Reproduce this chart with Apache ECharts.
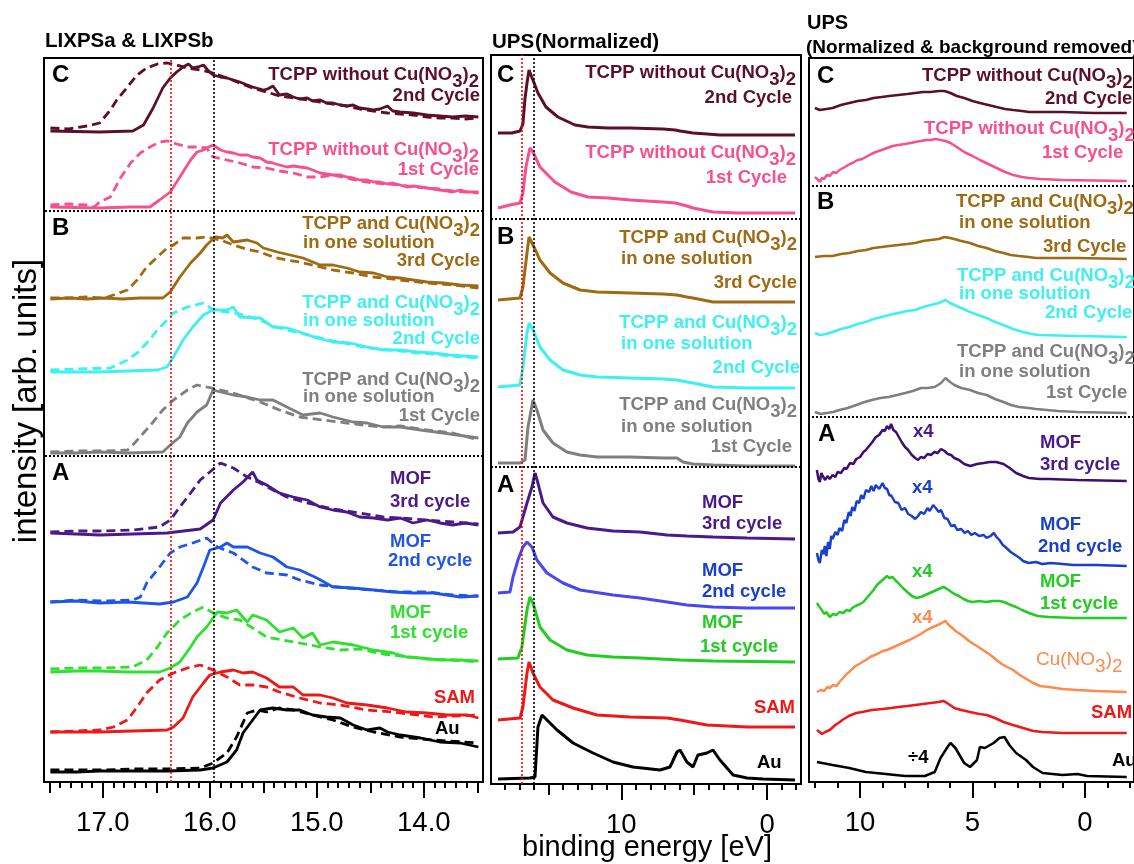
<!DOCTYPE html>
<html><head><meta charset="utf-8">
<script src="https://cdn.jsdelivr.net/npm/echarts@6/dist/echarts.min.js"></script>
<style>html,body{margin:0;padding:0;background:#fff}#c{width:1134px;height:864px}</style>
</head><body><div id="c"></div><script>
// ---------- tick positions / labels ----------
const lxMajor = [17, 16, 15, 14];
const lxMedium = [17.5, 16.5, 15.5, 14.5, 13.5];
const lxMinor = [17.4,17.3,17.2,17.1,16.9,16.8,16.7,16.6,16.4,16.3,16.2,16.1,15.9,15.8,15.7,15.6,15.4,15.3,15.2,15.1,14.9,14.8,14.7,14.6,14.4,14.3,14.2,14.1,13.9,13.8,13.7,13.6];
const upsMajor = [10, 0];
const upsMedium = [15, 5];
const upsMinor = [18,17,16,14,13,12,11,9,8,7,6,4,3,2,1,-1,-2];
const bgMajor = [10, 5, 0];
const bgMinor = [12,11,9,8,7,6,4,3,2,1,-1,-2];
// reference energies (dotted lines) and panel separators
const lxRefLines = [16.373, 15.96];
const upsRefLines = [16.8, 16.0];
const lxSep = [571, 326];
const upsSep = [565, 317];
const bgSep = [596, 365];

// ---------- LIXPS panel (binding energy eV, intensity offset units) ----------
const lxC2s = [[17.49,651],[17.03,650],[16.72,651],[16.62,657],[16.53,674],[16.44,694],[16.37,704],[16.31,710],[16.25,715],[16.20,718],[16.16,714],[16.11,715],[16.06,717],[16.02,712],[15.97,707],[15.90,705],[15.84,704],[15.78,702],[15.72,700],[15.65,697],[15.60,695],[15.50,692],[15.46,693],[15.41,696],[15.35,687],[15.28,688],[15.22,685],[15.16,683],[15.09,684],[15.04,681],[14.97,682],[14.91,679],[14.85,679],[14.78,677],[14.72,676],[14.66,677],[14.60,674],[14.53,673],[14.47,672],[14.41,673],[14.34,676],[14.29,671],[14.22,670],[14.10,669],[13.97,667],[13.85,666],[13.73,665],[13.61,666],[13.49,665]];
const lxC2d = [[17.49,654],[17.32,653],[17.15,656],[17.03,659],[16.93,672],[16.87,682],[16.77,695],[16.68,707],[16.59,714],[16.49,718],[16.40,719],[16.31,717],[16.21,714],[16.09,712],[15.97,709],[15.84,704],[15.72,699],[15.60,694],[15.47,690],[15.35,686],[15.22,684],[15.09,682],[14.97,680],[14.85,678],[14.72,676],[14.60,673],[14.47,671],[14.34,669],[14.22,668],[14.10,667],[13.97,665],[13.85,664],[13.73,664],[13.61,663],[13.49,664]];
const lxC1s = [[17.49,575],[17.03,574],[16.75,575],[16.56,575],[16.47,582],[16.37,590],[16.28,605],[16.18,622],[16.12,630],[16.06,632],[16.03,634],[15.97,637],[15.90,632],[15.84,630],[15.78,629],[15.72,627],[15.65,627],[15.60,625],[15.53,624],[15.47,620],[15.41,619],[15.35,617],[15.28,615],[15.22,616],[15.16,615],[15.09,614],[15.04,612],[14.97,609],[14.91,608],[14.85,607],[14.78,607],[14.72,605],[14.66,604],[14.60,602],[14.53,602],[14.47,600],[14.41,600],[14.34,598],[14.29,599],[14.22,597],[14.16,595],[14.10,596],[14.03,595],[13.97,594],[13.91,593],[13.85,592],[13.78,591],[13.73,590],[13.66,592],[13.59,590],[13.49,590]];
const lxC1d = [[17.49,577],[17.32,578],[17.15,577],[17.08,575],[17.03,580],[16.93,585],[16.83,605],[16.74,619],[16.65,629],[16.56,635],[16.47,640],[16.40,641],[16.37,640],[16.31,638],[16.21,635],[16.12,635],[16.03,634],[15.97,625],[15.84,622],[15.72,619],[15.60,615],[15.47,614],[15.35,611],[15.22,609],[15.09,605],[14.97,605],[14.85,607],[14.72,604],[14.60,601],[14.47,599],[14.34,598],[14.22,597],[14.10,595],[13.97,594],[13.85,593],[13.73,591],[13.61,590],[13.49,589]];
const lxB3s = [[17.49,483],[17.32,484],[17.15,483],[16.98,484],[16.82,483],[16.65,484],[16.44,484],[16.37,490],[16.28,505],[16.18,519],[16.09,529],[16.03,537],[15.95,545],[15.88,544],[15.84,547],[15.78,540],[15.65,542],[15.56,539],[15.50,534],[15.37,530],[15.25,527],[15.13,524],[14.97,517],[14.85,517],[14.72,514],[14.60,510],[14.47,509],[14.34,505],[14.22,504],[14.10,502],[13.97,500],[13.82,499],[13.66,497],[13.49,496]];
const lxB3d = [[17.49,484],[17.32,484],[17.15,485],[16.98,484],[16.77,492],[16.68,502],[16.59,515],[16.49,525],[16.40,534],[16.34,537],[16.25,544],[16.12,544],[16.03,545],[15.90,542],[15.78,537],[15.66,533],[15.53,530],[15.41,525],[15.28,522],[15.16,520],[14.97,515],[14.85,512],[14.66,509],[14.47,505],[14.22,502],[13.97,499],[13.73,497],[13.49,494]];
const lxB2s = [[17.49,410],[17.25,410],[17.03,410],[16.77,411],[16.49,412],[16.40,415],[16.34,425],[16.25,442],[16.16,455],[16.06,467],[15.97,472],[15.84,472],[15.78,475],[15.72,465],[15.53,464],[15.41,455],[15.28,454],[15.16,450],[15.00,444],[14.85,440],[14.69,439],[14.53,435],[14.38,432],[14.22,432],[14.06,430],[13.91,429],[13.76,427],[13.49,425]];
const lxB2d = [[17.49,412],[17.25,413],[16.93,414],[16.77,422],[16.68,429],[16.59,439],[16.49,452],[16.40,462],[16.34,469],[16.21,475],[16.06,479],[15.97,472],[15.84,470],[15.72,468],[15.53,462],[15.41,456],[15.28,452],[15.16,449],[15.00,445],[14.85,441],[14.69,438],[14.53,434],[14.38,433],[14.22,431],[14.06,429],[13.91,428],[13.76,426],[13.49,424]];
const lxB1s = [[17.49,329],[17.25,329],[17.03,330],[16.77,329],[16.44,330],[16.37,337],[16.28,345],[16.21,359],[16.12,370],[16.03,377],[15.97,392],[15.90,390],[15.78,387],[15.65,385],[15.53,382],[15.41,382],[15.28,375],[15.13,367],[14.97,369],[14.85,365],[14.66,360],[14.53,359],[14.38,355],[14.22,355],[14.03,352],[13.82,349],[13.49,344]];
const lxB1d = [[17.49,330],[17.25,331],[16.98,331],[16.77,332],[16.72,337],[16.62,349],[16.53,360],[16.44,372],[16.34,382],[16.21,392],[16.12,397],[16.03,395],[15.90,392],[15.75,388],[15.53,380],[15.35,372],[15.16,365],[14.94,362],[14.72,359],[14.41,355],[14.22,356],[13.97,352],[13.73,349],[13.49,342]];
const lxA3s = [[17.49,249],[17.25,248],[17.03,247],[16.72,248],[16.40,249],[16.09,253],[15.97,262],[15.90,279],[15.78,292],[15.69,300],[15.60,310],[15.56,302],[15.47,297],[15.35,289],[15.22,285],[15.09,282],[14.97,275],[14.85,272],[14.72,270],[14.60,265],[14.47,264],[14.34,262],[14.22,264],[14.10,259],[13.97,262],[13.85,259],[13.73,257],[13.61,259],[13.49,257]];
const lxA3d = [[17.49,250],[17.25,251],[17.03,251],[16.72,252],[16.47,255],[16.37,262],[16.28,275],[16.18,289],[16.09,302],[16.00,310],[15.90,319],[15.78,314],[15.65,305],[15.53,299],[15.41,292],[15.28,285],[15.09,279],[14.85,273],[14.60,269],[14.38,265],[14.22,264],[13.97,262],[13.73,260],[13.49,258]];
const lxA2s = [[17.49,180],[17.25,181],[17.03,179],[16.77,180],[16.47,178],[16.34,180],[16.21,185],[16.12,199],[16.06,215],[16.00,232],[15.90,235],[15.84,239],[15.78,235],[15.65,235],[15.53,229],[15.41,225],[15.28,215],[15.16,212],[15.00,204],[14.85,195],[14.66,194],[14.47,192],[14.29,190],[14.10,189],[13.91,189],[13.66,185],[13.49,186]];
const lxA2d = [[17.49,180],[17.25,182],[16.98,181],[16.72,182],[16.65,185],[16.59,199],[16.47,215],[16.37,229],[16.28,235],[16.16,239],[16.03,244],[15.93,235],[15.78,229],[15.60,215],[15.47,209],[15.28,207],[15.16,202],[14.97,197],[14.72,194],[14.47,192],[14.22,190],[13.97,190],[13.73,187],[13.49,186]];
const lxA1s = [[17.49,110],[17.25,111],[17.03,111],[16.77,110],[16.47,110],[16.37,114],[16.28,120],[16.18,135],[16.12,145],[16.03,155],[15.93,170],[15.84,169],[15.75,172],[15.65,160],[15.60,167],[15.47,162],[15.35,150],[15.22,154],[15.13,144],[15.04,149],[14.97,137],[14.85,140],[14.66,137],[14.47,132],[14.29,129],[14.16,125],[14.03,124],[13.85,122],[13.66,122],[13.49,121]];
const lxA1d = [[17.49,113],[17.25,114],[16.98,114],[16.72,115],[16.59,122],[16.49,135],[16.40,149],[16.28,162],[16.16,170],[16.06,175],[15.97,169],[15.84,164],[15.72,162],[15.60,154],[15.47,145],[15.32,142],[15.16,139],[14.97,135],[14.78,132],[14.60,133],[14.38,128],[14.22,126],[13.97,123],[13.73,122],[13.49,120]];
const lxSAMs = [[17.49,50],[17.25,50],[17.03,50],[16.72,51],[16.40,52],[16.34,55],[16.25,64],[16.16,85],[16.06,99],[16.00,107],[15.90,110],[15.78,112],[15.69,109],[15.60,110],[15.47,104],[15.35,95],[15.22,95],[15.13,87],[14.97,87],[14.85,84],[14.72,79],[14.53,77],[14.34,74],[14.16,70],[13.97,69],[13.78,67],[13.59,67],[13.49,64]];
const lxSAMd = [[17.49,50],[17.25,51],[17.03,52],[16.90,55],[16.77,62],[16.68,75],[16.59,89],[16.47,102],[16.34,109],[16.21,114],[16.09,117],[15.97,112],[15.84,105],[15.72,97],[15.60,97],[15.47,95],[15.35,90],[15.16,84],[14.97,79],[14.78,77],[14.53,72],[14.29,70],[13.91,65],[13.49,67]];
const lxAus = [[17.49,10],[17.25,10],[17.03,11],[16.72,11],[16.40,11],[16.09,12],[15.97,14],[15.84,20],[15.75,32],[15.69,49],[15.60,62],[15.53,72],[15.41,74],[15.28,72],[15.16,72],[15.04,67],[14.91,65],[14.78,64],[14.66,57],[14.53,52],[14.41,54],[14.34,50],[14.22,47],[14.03,44],[13.85,40],[13.66,39],[13.49,35]];
const lxAud = [[17.49,12],[17.25,12],[16.98,12],[16.72,13],[16.40,13],[16.09,14],[15.97,19],[15.84,29],[15.75,45],[15.65,69],[15.56,72],[15.47,70],[15.35,74],[15.22,72],[15.04,67],[14.85,62],[14.66,55],[14.47,50],[14.22,45],[13.91,42],[13.49,39]];

// ---------- UPS normalized panel ----------
const upsC2 = [[18.46,651],[17.5,651],[16.95,653],[16.75,660],[16.61,685],[16.47,701],[16.33,714],[16.2,709],[16.06,704],[15.72,691],[15.17,677],[14.35,667],[13.18,659],[12.29,657],[10.91,656],[9.4,656],[7.14,655],[6.3,654],[5.97,653],[5.08,651],[4.12,650],[3.23,649],[1.37,649],[-1.92,649]];
const upsC1 = [[18.46,576],[17.64,579],[16.95,581],[16.75,591],[16.54,617],[16.27,636],[16.06,632],[15.58,617],[14.56,602],[13.45,592],[12.29,587],[10.91,586],[9.4,584],[7.14,582],[6.3,581],[5.5,578],[5.08,576],[3.71,572],[2.0,571],[-1.92,571]];
const upsB3 = [[18.46,484],[16.95,486],[16.75,497],[16.47,531],[16.33,547],[16.06,539],[15.58,524],[14.89,511],[14.0,501],[12.83,494],[11.67,492],[9.4,491],[7.14,490],[6.18,489],[5.5,487],[5.08,486],[3.71,482],[1.37,482],[-1.92,482]];
const upsB2 = [[18.46,397],[16.95,399],[16.75,417],[16.47,451],[16.33,461],[16.06,454],[15.58,437],[14.89,424],[14.0,414],[12.83,409],[11.67,407],[9.4,406],[7.14,405],[6.18,404],[5.5,402],[5.08,401],[3.71,397],[1.37,396],[-1.92,396]];
const upsB1 = [[18.46,321],[16.95,321],[16.61,324],[16.40,357],[16.06,384],[15.79,374],[15.37,354],[14.69,341],[13.73,332],[12.83,329],[11.67,327],[9.4,327],[7.14,326],[6.18,326],[5.77,322],[5.08,320],[3.71,319],[1.37,318],[-1.92,318]];
const upsA3 = [[18.46,251],[17.43,252],[16.95,257],[16.47,281],[16.13,297],[15.92,311],[15.72,301],[15.37,281],[14.69,267],[13.73,261],[12.35,256],[10.57,253],[8.72,252],[6.86,249],[5.5,248],[3.71,247],[1.37,246],[-1.92,245]];
const upsA2 = [[18.46,191],[17.64,192],[17.43,207],[17.09,224],[16.75,237],[16.47,242],[16.13,237],[15.79,224],[15.10,211],[14.0,201],[12.83,194],[10.57,189],[8.72,186],[6.86,182],[5.5,179],[3.71,177],[1.37,176],[-1.92,176]];
const upsA1 = [[18.46,125],[17.09,126],[16.82,137],[16.47,174],[16.27,187],[16.06,181],[15.58,157],[14.89,144],[13.73,134],[12.35,129],[10.57,127],[8.72,126],[5.97,124],[3.71,123],[-1.92,122]];
const upsSAM = [[18.46,64],[16.95,66],[16.75,77],[16.47,111],[16.33,122],[16.06,111],[15.58,97],[14.69,84],[13.31,76],[11.67,69],[9.4,67],[6.86,66],[5.97,64],[4.12,59],[1.37,57],[-1.92,57]];
const upsAu = [[18.46,5],[16.27,6],[15.92,7],[15.72,57],[15.44,69],[15.10,64],[14.41,54],[13.31,41],[11.94,31],[10.57,22],[9.20,17],[7.34,14],[6.66,17],[6.18,32],[5.97,34],[5.50,22],[5.08,17],[4.74,29],[4.12,31],[3.71,34],[3.23,24],[2.75,16],[2.33,9],[1.37,6],[0.27,5],[-1.92,4]];

// ---------- UPS normalized & background removed panel ----------
const bgC2 = [[12.01,674],[11.79,672],[11.5,673],[11.22,674],[10.85,677],[10.48,679],[10.1,681],[9.74,682],[9.4,684],[9.04,685],[8.7,686],[8.30,687],[7.9,688],[7.55,689],[7.2,690],[6.86,690],[6.5,691],[6.24,691],[5.98,689],[5.7,686],[5.37,684],[5.0,681],[4.67,679],[4.3,677],[3.93,675],[3.55,673],[3.19,672],[2.8,671],[2.49,670],[1.0,670],[-0.41,669],[-1.86,669]];
const bgC1 = [[12.01,605],[11.9,603],[11.79,600],[11.7,604],[11.6,603],[11.48,607],[11.35,606],[11.2,610],[11.05,609],[10.92,612],[10.75,614],[10.6,616],[10.45,618],[10.35,619],[10.1,622],[9.9,623],[9.74,625],[9.5,628],[9.3,630],[9.04,632],[8.8,634],[8.55,636],[8.3,637],[8.0,638],[7.75,639],[7.55,640],[7.3,641],[7.07,642],[6.86,642],[6.65,643],[6.42,642],[6.2,641],[5.98,639],[5.7,635],[5.37,630],[5.0,626],[4.67,622],[4.3,618],[3.93,614],[3.55,610],[3.19,607],[2.8,605],[2.49,604],[2.0,603],[1.0,602],[-1.86,601]];
const bgB3 = [[12.01,525],[11.6,526],[11.22,526],[10.85,528],[10.48,529],[10.1,531],[9.74,532],[9.4,534],[9.04,535],[8.7,536],[8.30,537],[7.9,538],[7.55,539],[7.2,541],[6.86,542],[6.5,543],[6.24,545],[6.0,544],[5.81,543],[5.5,541],[5.11,539],[4.75,536],[4.37,534],[4.0,531],[3.62,529],[3.3,527],[2.93,526],[2.5,525],[2.18,524],[0.33,524],[-1.86,523]];
const bgB2 = [[12.01,449],[11.79,447],[11.5,448],[11.22,450],[10.85,453],[10.48,455],[10.1,458],[9.74,460],[9.4,463],[9.04,465],[8.7,467],[8.30,469],[7.9,471],[7.55,472],[7.2,475],[6.86,477],[6.5,479],[6.20,482],[6.0,479],[5.81,477],[5.5,474],[5.11,470],[4.75,467],[4.37,464],[4.0,460],[3.62,457],[3.2,453],[2.75,450],[2.4,448],[2.05,447],[0.33,446],[-1.86,445]];
const bgB1 = [[12.01,370],[11.75,368],[11.48,369],[11.2,370],[10.92,372],[10.55,374],[10.17,377],[9.8,380],[9.48,382],[9.1,384],[8.73,385],[8.35,387],[7.99,389],[7.65,391],[7.29,394],[7.0,394],[6.68,395],[6.4,399],[6.20,404],[6.0,400],[5.81,397],[5.5,394],[5.11,392],[4.75,389],[4.37,387],[4.0,383],[3.62,380],[3.3,377],[2.93,375],[2.5,374],[2.18,373],[1.2,371],[0.33,370],[-1.86,369]];
const bgA3 = [[11.92,312],[11.85,303],[11.79,300],[11.72,309],[11.66,306],[11.55,302],[11.45,306],[11.35,303],[11.22,307],[11.1,305],[11.0,310],[10.85,309],[10.7,314],[10.6,313],[10.45,319],[10.3,318],[10.17,323],[10.0,325],[9.85,330],[9.74,332],[9.6,336],[9.45,340],[9.3,345],[9.15,347],[9.0,352],[8.9,351],[8.8,356],[8.7,353],[8.62,358],[8.52,352],[8.4,350],[8.3,346],[8.15,340],[8.0,335],[7.86,332],[7.7,327],[7.55,324],[7.42,322],[7.3,325],[7.15,324],[7.0,328],[6.85,327],[6.7,330],[6.55,329],[6.4,333],[6.24,331],[6.1,328],[5.95,327],[5.81,324],[5.6,322],[5.37,318],[5.1,316],[4.8,318],[4.5,319],[4.24,320],[3.95,320],[3.62,318],[3.35,314],[3.06,309],[2.75,306],[2.49,304],[2.0,303],[1.62,303],[0.33,302],[-1.86,301]];
const bgA2 = [[11.92,229],[11.85,222],[11.79,219],[11.7,232],[11.62,228],[11.57,236],[11.5,226],[11.42,240],[11.35,233],[11.28,246],[11.22,243],[11.1,250],[11.0,247],[10.92,254],[10.8,251],[10.7,262],[10.61,259],[10.5,270],[10.42,266],[10.35,275],[10.25,271],[10.15,281],[10.04,279],[9.95,287],[9.85,283],[9.74,292],[9.6,290],[9.5,296],[9.4,291],[9.3,297],[9.15,293],[9.0,299],[8.9,294],[8.8,293],[8.7,287],[8.6,286],[8.45,280],[8.3,279],[8.15,272],[8.0,274],[7.86,268],[7.7,266],[7.55,263],[7.42,266],[7.3,270],[7.15,268],[7.0,274],[6.9,271],[6.75,277],[6.6,273],[6.5,270],[6.4,272],[6.25,264],[6.11,263],[5.95,256],[5.8,257],[5.68,252],[5.5,253],[5.35,249],[5.2,251],[5.05,247],[4.9,249],[4.7,246],[4.5,247],[4.37,244],[4.2,246],[4.05,249],[3.93,245],[3.8,242],[3.65,237],[3.49,234],[3.3,230],[3.1,227],[2.9,224],[2.75,221],[2.5,219],[2.18,220],[1.9,218],[1.5,219],[1.0,218],[0.5,217],[-0.5,217],[-1.86,216]];
const bgA1 = [[11.92,179],[11.8,175],[11.7,172],[11.6,168],[11.5,170],[11.35,165],[11.2,168],[11.05,167],[10.92,170],[10.75,169],[10.6,172],[10.45,171],[10.35,174],[10.2,176],[10.0,178],[9.85,180],[9.74,183],[9.55,188],[9.4,192],[9.25,197],[9.1,200],[8.95,203],[8.8,206],[8.7,204],[8.55,205],[8.4,201],[8.3,199],[8.1,194],[7.9,190],[7.7,186],[7.5,184],[7.3,185],[7.1,187],[6.9,189],[6.7,191],[6.5,193],[6.3,195],[6.2,194],[6.0,191],[5.8,188],[5.6,186],[5.4,183],[5.2,181],[5.0,180],[4.7,181],[4.4,180],[4.1,181],[3.8,181],[3.6,180],[3.3,177],[3.06,175],[2.8,172],[2.49,169],[2.1,166],[1.62,165],[0.5,164],[-1.86,164]];
const bgCu = [[11.92,90],[11.75,92],[11.6,91],[11.45,95],[11.35,94],[11.2,97],[11.05,96],[10.92,100],[10.75,104],[10.6,108],[10.48,110],[10.35,113],[10.2,116],[10.04,118],[9.9,120],[9.74,122],[9.55,125],[9.35,127],[9.15,129],[9.0,131],[8.8,132],[8.6,134],[8.4,136],[8.2,138],[8.0,140],[7.8,142],[7.55,145],[7.3,148],[7.1,151],[6.86,154],[6.65,156],[6.45,158],[6.3,160],[6.2,161],[6.05,157],[5.9,154],[5.75,151],[5.55,148],[5.37,145],[5.15,141],[4.95,138],[4.67,134],[4.4,130],[4.2,127],[3.93,122],[3.7,118],[3.45,115],[3.19,112],[2.9,107],[2.6,103],[2.3,99],[2.0,96],[1.62,95],[1.0,93],[0.33,92],[-0.5,91],[-1.86,90]];
const bgSAM = [[11.92,52],[11.8,50],[11.7,48],[11.55,50],[11.35,52],[11.1,57],[10.9,60],[10.79,62],[10.5,66],[10.17,69],[9.9,70],[9.48,72],[9.0,73],[8.6,74],[8.3,75],[7.9,76],[7.55,77],[7.2,78],[6.86,79],[6.5,80],[6.3,81],[6.2,80],[6.0,77],[5.81,74],[5.5,72],[5.11,70],[4.7,68],[4.37,67],[4.0,64],[3.62,60],[3.2,57],[2.75,54],[2.3,51],[1.88,50],[1.0,49],[-1.86,49]];
const bgAu = [[11.92,20],[11.22,17],[10.48,14],[9.74,10],[8.86,8],[7.99,6],[7.12,6],[6.68,10],[6.42,24],[6.11,35],[5.98,39],[5.76,34],[5.37,19],[5.11,15],[4.80,22],[4.67,35],[4.45,34],[4.06,39],[3.80,44],[3.58,45],[3.36,37],[3.06,29],[2.62,22],[2.31,15],[1.88,9],[1.0,7],[0.33,8],[-0.1,6],[-1.86,5]];

// ---------- styling ----------
const FF = '"Liberation Sans", Arial, Helvetica, sans-serif';
const C = {maroon:'#5c0f2c', pink:'#f7508f', brown:'#9e6a12', cyan:'#3ff0f2', gray:'#7f7f7f',
  purple:'#4a1a8a', purpleR:'#3c0f70', blueL:'#1f55ea', blueM:'#4848ee', blueR:'#1a3fcc',
  green:'#30e030', greenM:'#22cc22', red:'#ee1818', orange:'#ff8a4f', black:'#000000'};

function ln(data, color, panel, dashed, width) {
  return {type:'line', data, xAxisIndex: panel*3, yAxisIndex: panel, symbol:'none', showSymbol:false,
    silent:true, animation:false, clip:true,
    lineStyle:{color, width: width || 2.8, type: dashed ? [9,5] : 'solid'}};
}
const series = [
  ln(lxC2d,C.maroon,0,true), ln(lxC2s,C.maroon,0),
  ln(lxC1d,C.pink,0,true), ln(lxC1s,C.pink,0),
  ln(lxB3d,C.brown,0,true), ln(lxB3s,C.brown,0),
  ln(lxB2d,C.cyan,0,true), ln(lxB2s,C.cyan,0),
  ln(lxB1d,C.gray,0,true), ln(lxB1s,C.gray,0),
  ln(lxA3d,C.purple,0,true), ln(lxA3s,C.purple,0),
  ln(lxA2d,C.blueL,0,true), ln(lxA2s,C.blueL,0),
  ln(lxA1d,C.green,0,true), ln(lxA1s,C.green,0),
  ln(lxSAMd,C.red,0,true), ln(lxSAMs,C.red,0),
  ln(lxAud,C.black,0,true), ln(lxAus,C.black,0),
  ln(upsC2,C.maroon,1,false,3), ln(upsC1,C.pink,1,false,3), ln(upsB3,C.brown,1,false,3), ln(upsB2,C.cyan,1,false,3), ln(upsB1,C.gray,1,false,3),
  ln(upsA3,C.purple,1,false,3), ln(upsA2,C.blueM,1,false,3), ln(upsA1,C.greenM,1,false,3), ln(upsSAM,C.red,1,false,3), ln(upsAu,C.black,1,false,3),
  ln(bgC2,C.maroon,2,false,2.5), ln(bgC1,C.pink,2,false,2.5), ln(bgB3,C.brown,2,false,2.5), ln(bgB2,C.cyan,2,false,2.5),
  ln(bgB1,C.gray,2,false,2.5), ln(bgA3,C.purpleR,2,false,2.5), ln(bgA2,C.blueR,2,false,2.5), ln(bgA1,C.greenM,2,false,2.5),
  ln(bgCu,C.orange,2,false,2.5), ln(bgSAM,C.red,2,false,2.5), ln(bgAu,C.black,2,false,2.5)
];
function marks(panel, vlines, hlines) {
  const d = [];
  vlines.forEach((v,i) => d.push({xAxis:v, lineStyle:{color: i===0 ? '#ff0000' : '#000', type:[2,2], width:1.6}}));
  hlines.forEach(v => d.push({yAxis:v, lineStyle:{color:'#000', type:[2,2], width:2}}));
  return {type:'line', data:[], xAxisIndex: panel*3, yAxisIndex: panel, silent:true, animation:false,
    markLine:{silent:true, symbol:'none', animation:false, label:{show:false}, data:d}};
}
series.push(marks(0, lxRefLines, lxSep), marks(1, upsRefLines, upsSep), marks(2, [], bgSep));

function axes(grid, min, max, major, medium, minor, fmt) {
  const base = {type:'value', gridIndex:grid, min, max, inverse:true, position:'bottom',
    axisLine:{show:false}, splitLine:{show:false}, minorTick:{show:false}, minorSplitLine:{show:false}};
  const tk = (vals, len) => ({show:true, customValues:vals, length:len, lineStyle:{color:'#000', width:2}});
  return [
    Object.assign({}, base, {axisTick:tk(major,16), axisLabel:{show:true, customValues:major, formatter:fmt,
      fontSize:27.5, fontFamily:FF, color:'#000', margin:27}}),
    Object.assign({}, base, medium.length ? {axisTick:tk(medium,11), axisLabel:{show:false}} : {show:false}),
    Object.assign({}, base, {axisTick:tk(minor,6), axisLabel:{show:false}})
  ];
}
const xAxis = [].concat(
  axes(0, 13.447, 17.55, lxMajor, lxMedium, lxMinor, v => Number(v).toFixed(1)),
  axes(1, -2.33, 18.94, upsMajor, upsMedium, upsMinor, v => String(v)),
  axes(2, -2.183, 12.271, bgMajor, [], bgMinor, v => String(v))
);
const yAxis = [724, 729, 724].map((m,i) => ({type:'value', gridIndex:i, min:0, max:m, show:false}));
const gridBase = {show:true, borderColor:'#000', borderWidth:2, backgroundColor:'transparent', containLabel:false};
const grid = [
  Object.assign({left:44, top:58, width:439, height:724}, gridBase),
  Object.assign({left:491, top:55, width:310, height:729}, gridBase),
  Object.assign({left:809, top:58, width:331, height:724}, gridBase)
];

// ---------- texts ----------
const mctx = document.createElement('canvas').getContext('2d');
function label(x, y, s, color, align, size, weight) {
  size = size || 18.5; weight = weight || 'bold';
  const font = weight + ' ' + size + 'px ' + FF;
  mctx.font = font;
  const segs = [];
  for (let i = 0; i < s.length; i++) {
    let sub = false, ch = s[i];
    if (ch === '_') { sub = true; ch = s[++i]; }
    const last = segs[segs.length-1];
    if (last && last.sub === sub) last.t += ch; else segs.push({t:ch, sub});
  }
  let w = 0; segs.forEach(g => { g.w = mctx.measureText(g.t).width; w += g.w; });
  let cx = align === 'right' ? x - w : x;
  return segs.map(g => {
    const e = {type:'text', x:cx, y:y + (g.sub ? 7 : 0), silent:true, z:10,
      style:{text:g.t, fill:color, font, textAlign:'left', align:'left', textVerticalAlign:'middle', verticalAlign:'middle'}};
    cx += g.w; return e;
  });
}
const T1 = 'TCPP without Cu(NO_3)_2', T2 = 'TCPP and Cu(NO_3)_2', T3 = 'in one solution';
const G = [];
const add = (...a) => G.push(...label(...a));
// titles
add(45, 41, 'LIXPSa & LIXPSb', '#000', 'left', 20.5);
add(492, 42, 'UPS', '#000', 'left', 20.5);
add(535, 42, '(Normalized)', '#000', 'left', 20.5);
add(807, 23, 'UPS', '#000', 'left', 20);
add(806, 48, '(Normalized & background removed)', '#000', 'left', 19);
// panel letters
[[52,75,'C'],[52,228,'B'],[52,473,'A'],[497,75,'C'],[497,237,'B'],[497,485,'A'],[817,76,'C'],[817,202,'B'],[818,434,'A']]
  .forEach(p => add(p[0], p[1], p[2], '#000', 'left', 24));
// left panel
add(479,75,T1,C.maroon,'right'); add(480,96,'2nd Cycle',C.maroon,'right');
add(479,150,T1,C.pink,'right'); add(479,170,'1st Cycle',C.pink,'right');
add(480,224,T2,C.brown,'right'); add(303,243,T3,C.brown,'left'); add(480,261,'3rd Cycle',C.brown,'right');
add(480,303,T2,C.cyan,'right'); add(303,321,T3,C.cyan,'left'); add(480,339,'2nd Cycle',C.cyan,'right');
add(480,380,T2,C.gray,'right'); add(303,397,T3,C.gray,'left'); add(480,416,'1st Cycle',C.gray,'right');
add(390,479,'MOF',C.purple,'left'); add(390,502,'3rd cycle',C.purple,'left');
add(390,542,'MOF',C.blueL,'left'); add(388,561,'2nd cycle',C.blueL,'left');
add(390,613,'MOF',C.green,'left'); add(390,633,'1st cycle',C.green,'left');
add(475,698,'SAM',C.red,'right'); add(435,729,'Au','#000','left');
// middle panel
add(796,73,T1,C.maroon,'right'); add(792,98,'2nd Cycle',C.maroon,'right');
add(796,153,T1,C.pink,'right'); add(787,178,'1st Cycle',C.pink,'right');
add(797,238,T2,C.brown,'right'); add(621,259,T3,C.brown,'left'); add(797,283,'3rd Cycle',C.brown,'right');
add(797,323,T2,C.cyan,'right'); add(621,344,T3,C.cyan,'left'); add(800,368,'2nd Cycle',C.cyan,'right');
add(797,405,T2,C.gray,'right'); add(621,427,T3,C.gray,'left'); add(792,447,'1st Cycle',C.gray,'right');
add(702,503,'MOF',C.purple,'left'); add(702,524,'3rd cycle',C.purple,'left');
add(702,571,'MOF',C.blueR,'left'); add(702,592,'2nd cycle',C.blueR,'left');
add(702,623,'MOF',C.greenM,'left'); add(700,647,'1st cycle',C.greenM,'left');
add(795,708,'SAM',C.red,'right'); add(757,763,'Au','#000','left');
// right panel
add(922,76,T1,C.maroon,'left'); add(1045,99,'2nd Cycle',C.maroon,'left');
add(924,129,T1,C.pink,'left'); add(1042,153,'1st Cycle',C.pink,'left');
add(956,202,T2,C.brown,'left'); add(959,223,T3,C.brown,'left'); add(1043,247,'3rd Cycle',C.brown,'left');
add(957,276,T2,C.cyan,'left'); add(959,294,T3,C.cyan,'left'); add(1045,313,'2nd Cycle',C.cyan,'left');
add(957,352,T2,C.gray,'left'); add(959,372,T3,C.gray,'left'); add(1046,393,'1st Cycle',C.gray,'left');
add(913,432,'x4',C.purple,'left'); add(1040,443,'MOF',C.purple,'left'); add(1040,465,'3rd cycle',C.purple,'left');
add(912,488,'x4',C.blueR,'left'); add(1040,525,'MOF',C.blueR,'left'); add(1038,547,'2nd cycle',C.blueR,'left');
add(912,572,'x4',C.greenM,'left'); add(1040,582,'MOF',C.greenM,'left'); add(1040,604,'1st cycle',C.greenM,'left');
add(912,618,'x4',C.orange,'left'); add(1036,660,'Cu(NO_3)_2',C.orange,'left',19,'normal');
add(1091,713,'SAM',C.red,'left');
add(908,758,'\u00f74','#000','left'); add(1112,761,'Au','#000','left');
// axis titles
G.push({type:'text', x:27, y:401, rotation:Math.PI/2, silent:true,
  style:{text:'intensity [arb. units]', fill:'#000', font:'33px ' + FF, textAlign:'center', align:'center', textVerticalAlign:'middle', verticalAlign:'middle'}});
G.push({type:'text', x:647, y:848, silent:true,
  style:{text:'binding energy [eV]', fill:'#000', font:'29px ' + FF, textAlign:'center', align:'center', textVerticalAlign:'middle', verticalAlign:'middle'}});

const chart = echarts.init(document.getElementById('c'), null, {renderer:'canvas'});
chart.setOption({animation:false, backgroundColor:'#fff', grid, xAxis, yAxis, series, graphic:{elements:G}});
</script></body></html>
